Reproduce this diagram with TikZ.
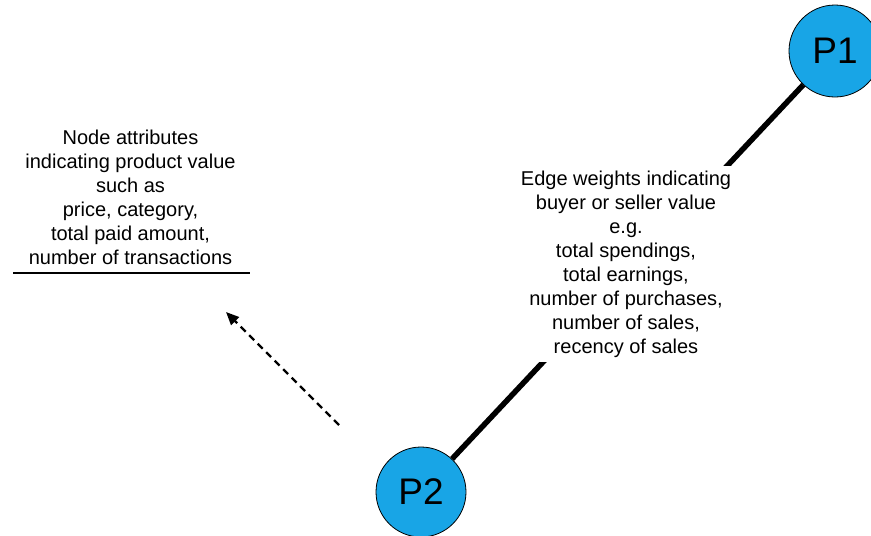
\documentclass[tikz,border=0pt]{standalone}
\usepackage{fontspec}
\setmainfont{Liberation Sans}
\usetikzlibrary{arrows.meta,backgrounds}

\definecolor{nodeblue}{RGB}{24,165,230}

\tikzset{
  pnode/.style={circle, draw=black, line width=0.8pt, fill=nodeblue,
    inner sep=0pt, font=\fontsize{37}{42}\selectfont},
  note/.style={align=center, font=\fontsize{20}{24}\selectfont},
  edgeline/.style={line width=5.5pt, black},
  hint/.style={line width=2.4pt, dash pattern=on 7pt off 5pt,
    -{Triangle[length=13pt,width=11pt]}},
}

\begin{document}
\begin{tikzpicture}[x=1pt, y=-1pt]
  \useasboundingbox (0,0) rectangle (871,536);

  % the two products
  \node[pnode, minimum size=92pt] (P1) at (835,51) {P1};
  \node[pnode, minimum size=90pt] (P2) at (421,492) {P2};

  % edge description, masking the middle of the edge
  \node[note, fill=white, inner sep=4.5pt] (edgetext) at (626,264)
    {Edge weights indicating\\buyer or seller value\\e.g.\\total spendings,\\total earnings,\\number of purchases,\\number of sales,\\recency of sales};

  % weighted edge, kept behind the circles and the description
  \begin{pgfonlayer}{background}
    \draw[edgeline] (P1) -- (P2);
  \end{pgfonlayer}

  % node attribute description
  \node[note] (attrtext) at (130.5,197)
    {Node attributes\\indicating product value\\such as\\price, category,\\total paid amount,\\number of transactions};
  \draw[line width=2pt] (13,273) -- (250,273);

  % pointer from P2 towards the attribute note
  \coordinate (hintstart) at (339,425);
  \coordinate (hintend) at (226,312);
  \draw[hint] (hintstart) -- (hintend);
\end{tikzpicture}
\end{document}
